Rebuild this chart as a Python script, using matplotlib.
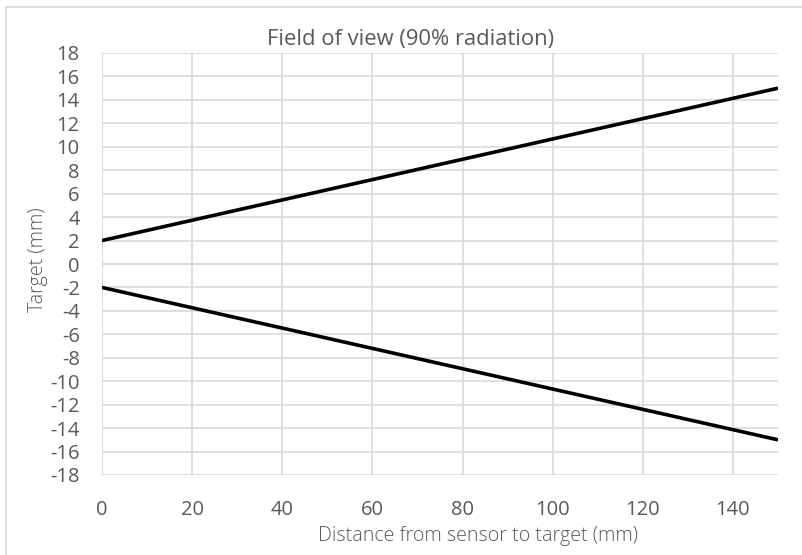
import matplotlib
matplotlib.use("Agg")
import matplotlib.pyplot as plt
from matplotlib.lines import Line2D

distance_mm = [0, 150]
upper_mm = [2, 15]
lower_mm = [-2, -15]
x_ticks = [0, 20, 40, 60, 80, 100, 120, 140]
y_ticks = list(range(-18, 19, 2))

plt.rcParams['font.family'] = ['Open Sans', 'DejaVu Sans']
plt.rcParams['axes.unicode_minus'] = False

W, H = 803, 555
fig = plt.figure(figsize=(W / 100, H / 100), dpi=100)
ax = fig.add_axes([102 / W, 1 - 475 / H, (778 - 102) / W, (475 - 53) / H])

grid_c = '#d9d9d9'
txt_c = '#595959'

ax.plot(distance_mm, upper_mm, color='black', lw=2.6, solid_capstyle='butt', zorder=3)
ax.plot(distance_mm, lower_mm, color='black', lw=2.6, solid_capstyle='butt', zorder=3)

ax.set_xlim(0, 150)
ax.set_ylim(-18, 18)
ax.set_xticks(x_ticks)
ax.set_yticks(y_ticks)
ax.grid(True, color=grid_c, lw=1.2, zorder=0)
for s in ax.spines.values():
    s.set_visible(False)
ax.axvline(0, color=grid_c, lw=1.2, zorder=1)
ax.axhline(0, color='#cccccc', lw=1.2, zorder=1)

ax.tick_params(axis='both', length=0, labelsize=14.5, labelcolor=txt_c)
ax.tick_params(axis='y', pad=16)
ax.tick_params(axis='x', pad=18)

fig.text(0.511, 1 - 40 / H, 'Field of view (90% radiation)', ha='center', va='center',
         fontsize=15.8, color=txt_c)
fig.text(478 / W, 1 - 536 / H, 'Distance from sensor to target (mm)', ha='center', va='center',
         fontsize=14.1, color=txt_c, fontweight='light')
fig.text(38 / W, 1 - 260 / H, 'Target (mm)', ha='center', va='center', rotation=90,
         fontsize=14.1, color=txt_c, fontweight='light')

# chart border (top and left visible)
fig.add_artist(Line2D([6.5 / W, 1], [1 - 6.5 / H, 1 - 6.5 / H], color='#d9d9d9', lw=1.2))
fig.add_artist(Line2D([6.5 / W, 6.5 / W], [0, 1 - 6.5 / H], color='#d9d9d9', lw=1.2))

fig.savefig('out.png', dpi=100)
